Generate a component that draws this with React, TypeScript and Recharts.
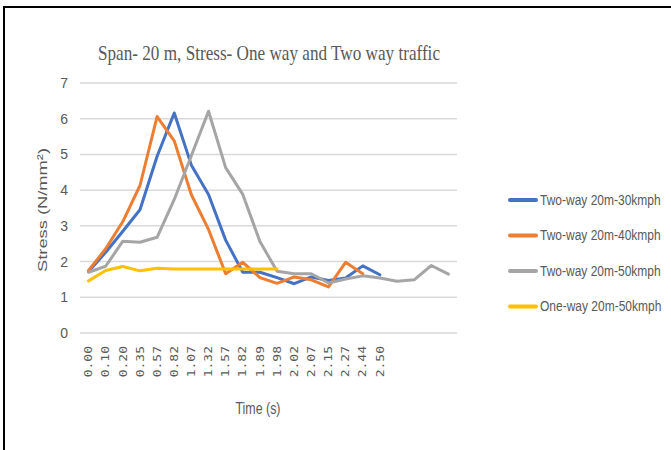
import React from 'react';
import { LineChart, Line, XAxis, YAxis, CartesianGrid, Legend } from 'recharts';

const timeLabels = ['0.00', '0.10', '0.20', '0.35', '0.57', '0.82', '1.07', '1.32', '1.57', '1.82', '1.89', '1.98', '2.02', '2.07', '2.15', '2.27', '2.44', '2.50'];

const twoWay30 = [1.72, 2.26, 2.85, 3.45, 4.95, 6.16, 4.7, 3.88, 2.6, 1.7, 1.7, 1.55, 1.38, 1.57, 1.47, 1.54, 1.88, 1.63];
const twoWay40 = [1.75, 2.36, 3.12, 4.13, 6.06, 5.38, 3.87, 2.9, 1.66, 1.98, 1.55, 1.39, 1.57, 1.49, 1.29, 1.98, 1.66];
const twoWay50 = [1.7, 1.87, 2.57, 2.54, 2.68, 3.74, 4.97, 6.21, 4.63, 3.88, 2.56, 1.73, 1.66, 1.66, 1.4, 1.51, 1.6, 1.54, 1.45, 1.49, 1.89, 1.65];
const oneWay50 = [1.46, 1.75, 1.86, 1.74, 1.81, 1.79, 1.79, 1.79, 1.79, 1.79, 1.79, 1.79];

const seriesNames = ['Two-way 20m-30kmph', 'Two-way 20m-40kmph', 'Two-way 20m-50kmph', 'One-way 20m-50kmph'];
const seriesColors = ['#4472C4', '#ED7D31', '#A5A5A5', '#FFC000'];
const yTicks = [0, 1, 2, 3, 4, 5, 6, 7];

const titleText = 'Span- 20 m, Stress- One way and Two way traffic';
const xTitle = 'Time (s)';
const yTitle = 'Stress (N/mm²)';

const seriesValues = [twoWay30, twoWay40, twoWay50, oneWay50];
const pointCount = Math.max(...seriesValues.map((s) => s.length));
const data = Array.from({ length: pointCount }, (_, i) => ({
  i,
  s0: twoWay30[i] ?? null,
  s1: twoWay40[i] ?? null,
  s2: twoWay50[i] ?? null,
  s3: oneWay50[i] ?? null,
}));

const GRAY = '#595959';

const XTick = (props: any) => {
  const { x, y, payload } = props;
  const label = timeLabels[payload.value] ?? '';
  return (
    <text
      transform={`translate(${x},${y + 13}) rotate(-90) scale(1,0.85)`}
      textAnchor="end"
      dominantBaseline="central"
      fontFamily="DejaVu Sans Mono"
      fontSize={13}
      fill={GRAY}
    >
      {label}
    </text>
  );
};

const YTick = (props: any) => {
  const { y, payload } = props;
  return (
    <text x={68} y={y} textAnchor="end" dominantBaseline="central" fontFamily="Liberation Sans" fontSize={14} fill={GRAY}>
      {payload.value}
    </text>
  );
};

const LegendContent = () => (
  <svg width={173} height={140} style={{ display: 'block' }}>
    {seriesNames.map((name, k) => {
      const cy = 20 + k * 35.5;
      return (
        <g key={name}>
          <line x1={12} x2={38} y1={cy} y2={cy} stroke={seriesColors[k]} strokeWidth={4} strokeLinecap="round" />
          <text
            transform={`translate(42,${cy}) scale(0.8,1)`}
            dominantBaseline="central"
            fontFamily="Liberation Sans"
            fontSize={15}
            fill={GRAY}
          >
            {name}
          </text>
        </g>
      );
    })}
  </svg>
);

export default function App() {
  return (
    <div style={{ position: 'absolute', left: 0, top: 0, width: 671, height: 450, background: '#fff', overflow: 'hidden' }}>
      <div
        style={{
          position: 'absolute',
          left: 3,
          top: 6,
          right: -10,
          bottom: -10,
          borderLeft: '2px solid #000',
          borderTop: '2px solid #000',
        }}
      />
      <svg width={671} height={450} style={{ position: 'absolute', left: 0, top: 0 }}>
        <text
          x={269}
          y={52}
          textAnchor="middle"
          dominantBaseline="central"
          fontFamily="Liberation Serif"
          fontSize={22}
          fill={GRAY}
          textLength={342}
          lengthAdjust="spacingAndGlyphs"
        >
          {titleText}
        </text>
        <text
          x={258}
          y={408}
          textAnchor="middle"
          dominantBaseline="central"
          fontFamily="Liberation Sans"
          fontSize={16}
          fill={GRAY}
          textLength={45}
          lengthAdjust="spacingAndGlyphs"
        >
          {xTitle}
        </text>
        <text
          transform="translate(42,210) scale(0.85,1) rotate(-90)"
          textAnchor="middle"
          dominantBaseline="central"
          fontFamily="Liberation Sans"
          fontSize={16}
          fill={GRAY}
          textLength={124}
          lengthAdjust="spacingAndGlyphs"
        >
          {yTitle}
        </text>
      </svg>
      <div style={{ position: 'absolute', left: 0, top: 0 }}>
        <LineChart width={671} height={450} data={data} margin={{ top: 83, right: 214, bottom: 57, left: 40 }}>
          <CartesianGrid vertical={false} stroke="#d9d9d9" strokeWidth={1.5} />
          <XAxis
            dataKey="i"
            type="category"
            interval={0}
            tickLine={false}
            axisLine={false}
            tickSize={0}
            tickMargin={0}
            height={60}
            padding={{ left: 8.57, right: 8.57 }}
            tick={<XTick />}
          />
          <YAxis
            domain={[0, 7]}
            ticks={yTicks}
            interval={0}
            tickLine={false}
            axisLine={false}
            width={40}
            tick={<YTick />}
          />
          {seriesNames.map((name, k) => (
            <Line
              key={name}
              type="linear"
              dataKey={`s${k}`}
              name={name}
              stroke={seriesColors[k]}
              strokeWidth={3}
              strokeLinejoin="round"
              strokeLinecap="round"
              dot={false}
              activeDot={false}
              isAnimationActive={false}
            />
          ))}
          <Legend
            layout="horizontal"
            align="center"
            verticalAlign="middle"
            content={<LegendContent />}
            wrapperStyle={{ position: 'absolute', left: 498, top: 180, width: 173, height: 140 }}
          />
        </LineChart>
      </div>
    </div>
  );
}
